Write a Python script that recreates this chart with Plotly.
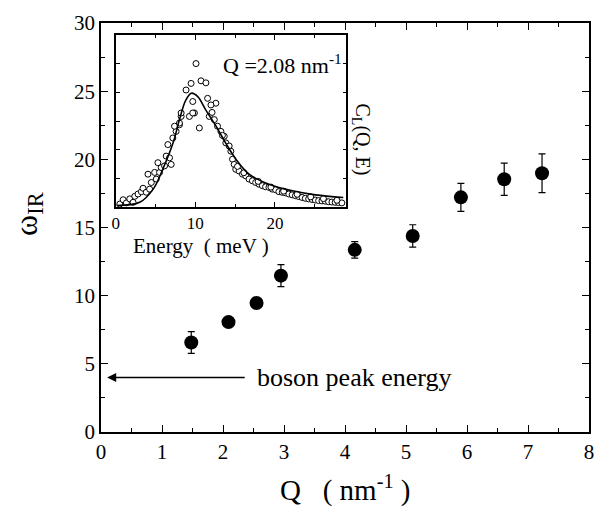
import plotly.graph_objects as go

FONT = "Times New Roman"

# Main data: omega_IR vs Q
q_vals = [1.48, 2.09, 2.55, 2.95, 4.16, 5.11, 5.90, 6.61, 7.23]
w_vals = [6.56, 8.06, 9.46, 11.47, 13.36, 14.38, 17.21, 18.54, 18.98]
w_err = [0.80, 0.0, 0.0, 0.80, 0.60, 0.82, 1.02, 1.18, 1.42]

# Inset data: C_L(Q,E) at Q = 2.08 nm^-1
e_pts = [0.5, 0.92, 1.33, 1.75, 2.17, 2.38, 2.79, 3.21, 3.42, 3.83, 4.25, 4.46,
         4.04, 4.88, 5.08, 5.5, 5.71, 5.29, 6.13, 6.33, 6.75, 6.96, 6.54, 7.17,
         7.58, 8.0, 7.38, 8.21, 9.25, 9.88, 10.5, 10.08, 9.46, 10.71, 11.33,
         8.83, 9.67, 9.67, 11.54, 12.58, 11.96, 8.21, 8.0, 11.75, 12.38, 12.79,
         13.21, 13.63, 13.83, 14.25, 14.46, 14.67, 14.88, 15.08, 15.5, 15.92,
         16.33, 16.75, 17.17, 17.58, 18.0, 18.42, 18.83, 19.25, 19.67, 20.08,
         20.5, 20.92, 21.33, 21.75, 22.17, 22.58, 23.0, 23.42, 23.83, 24.25,
         24.67, 25.08, 25.5, 25.92, 26.33, 26.75, 27.17, 27.58, 28.0, 28.42,
         17.9, 19.5, 21.1, 22.8, 24.5, 26.1, 27.8, 15.3, 16.1, 13.4, 12.1]
c_pts = [0.11, 0.26, 0.15, 0.29, 0.17, 0.38, 0.46, 0.54, 0.66, 0.52, 0.63, 0.86,
         1.15, 1.21, 0.98, 1.21, 1.38, 1.55, 1.44, 1.78, 1.72, 1.49, 2.18, 2.41,
         2.64, 2.87, 2.82, 3.16, 3.16, 3.28, 2.76, 5.0, 4.31, 4.40, 4.33,
         4.08, 3.68, 3.28, 3.79, 3.62, 3.56, 3.28, 2.93, 3.16, 3.05, 2.82,
         2.64, 2.47, 2.24, 2.13, 1.95, 1.67, 1.49, 1.32, 1.26, 1.15,
         1.09, 0.98, 0.92, 0.86, 0.80, 0.75, 0.71, 0.69, 0.63, 0.61,
         0.54, 0.52, 0.50, 0.46, 0.43, 0.40, 0.37, 0.34, 0.31, 0.29,
         0.27, 0.25, 0.23, 0.22, 0.21, 0.19, 0.18, 0.17, 0.16, 0.15,
         0.90, 0.70, 0.56, 0.45, 0.36, 0.30, 0.24, 1.42, 1.20, 2.50, 3.30]

e_fit = [0.1, 3.0, 4.7, 5.9, 7.2, 8.0, 8.8, 9.5, 10.3, 11.3, 12.6, 13.8, 15.1,
         16.75, 19.25, 22.2, 25.1, 28.6]
c_fit = [0.06, 0.17, 0.63, 1.32, 2.24, 3.05, 3.73, 3.97, 3.85, 3.39, 2.82, 2.24,
         1.67, 1.15, 0.80, 0.57, 0.43, 0.34]

# Arrow for boson peak energy
boson_y = 4.0
arrow_x = [0.1, 2.38]

fig = go.Figure()

fig.add_trace(go.Scatter(
    x=q_vals, y=w_vals, mode="markers",
    marker=dict(size=14, color="black"),
    error_y=dict(type="data", array=w_err, visible=True, color="black",
                 thickness=1.2, width=3.5),
    xaxis="x", yaxis="y", showlegend=False))

fig.add_trace(go.Scatter(
    x=e_pts, y=c_pts, mode="markers",
    marker=dict(size=6, color="white", symbol="circle",
                line=dict(color="black", width=1)),
    xaxis="x2", yaxis="y2", showlegend=False))

fig.add_trace(go.Scatter(
    x=e_fit, y=c_fit, mode="lines",
    line=dict(color="black", width=1.6, shape="spline", smoothing=1.0),
    xaxis="x2", yaxis="y2", showlegend=False))

axis_common = dict(showgrid=False, zeroline=False, showline=True,
                   linecolor="black", linewidth=1.5, mirror="ticks",
                   ticks="inside", tickcolor="black", tickwidth=1.2)

fig.update_layout(
    width=605, height=508,
    margin=dict(l=101, r=11, t=19, b=76),
    paper_bgcolor="white", plot_bgcolor="white",
    font=dict(family=FONT, color="black"),
    xaxis=dict(range=[0, 8], dtick=1, ticklen=7, domain=[0, 1],
               tickfont=dict(family=FONT, size=21),
               minor=dict(ticks="inside", dtick=0.5, ticklen=4,
                          tickcolor="black", tickwidth=1.2),
               **axis_common),
    yaxis=dict(range=[0, 30], dtick=5, ticklen=7, domain=[0, 1],
               tickfont=dict(family=FONT, size=21),
               minor=dict(ticks="inside", dtick=2.5, ticklen=4,
                          tickcolor="black", tickwidth=1.2),
               **axis_common),
    xaxis2=dict(range=[0, 29], dtick=10, ticklen=5, anchor="y2",
                domain=[0.0304, 0.503],
                tickfont=dict(family=FONT, size=17),
                minor=dict(ticks="inside", dtick=5, ticklen=3,
                           tickcolor="black", tickwidth=1),
                **axis_common),
    yaxis2=dict(range=[0, 6], dtick=1, ticklen=4, anchor="x2",
                domain=[0.5496, 0.971], showticklabels=False,
                **axis_common),
)

def px(xp):
    return (xp - 101) / 493

def py(yp):
    return (432 - yp) / 413

def lab(xp, yp, text, size, **kw):
    d = dict(x=px(xp), y=py(yp), xref="paper", yref="paper", text=text,
             showarrow=False, xanchor="center", yanchor="middle",
             font=dict(family=FONT, size=size))
    d.update(kw)
    return d

annotations = [
    lab(27, 212, "ω<sub>IR</sub>", 32, textangle=-90),
    lab(348, 489, "Q   ( nm<sup>-1</sup> )", 29),
    lab(202, 244, "Energy  ( meV )", 21),
    lab(346, 60, "Q =2.08 nm<sup>-1</sup>", 22, xanchor="right"),
    lab(364, 137, "C<sub>L</sub>(Q, E)", 20, textangle=90),
    dict(x=arrow_x[0], y=boson_y, ax=arrow_x[1], ay=boson_y,
         xref="x", yref="y", axref="x", ayref="y",
         text="", showarrow=True, arrowhead=2, arrowsize=1.3,
         arrowwidth=1.4, arrowcolor="black"),
    dict(x=2.53, y=boson_y, xref="x", yref="y", xanchor="left",
         yanchor="middle", text="boson peak energy", showarrow=False,
         font=dict(family=FONT, size=26)),
]
fig.update_layout(annotations=annotations)

fig.write_html("out.html")
